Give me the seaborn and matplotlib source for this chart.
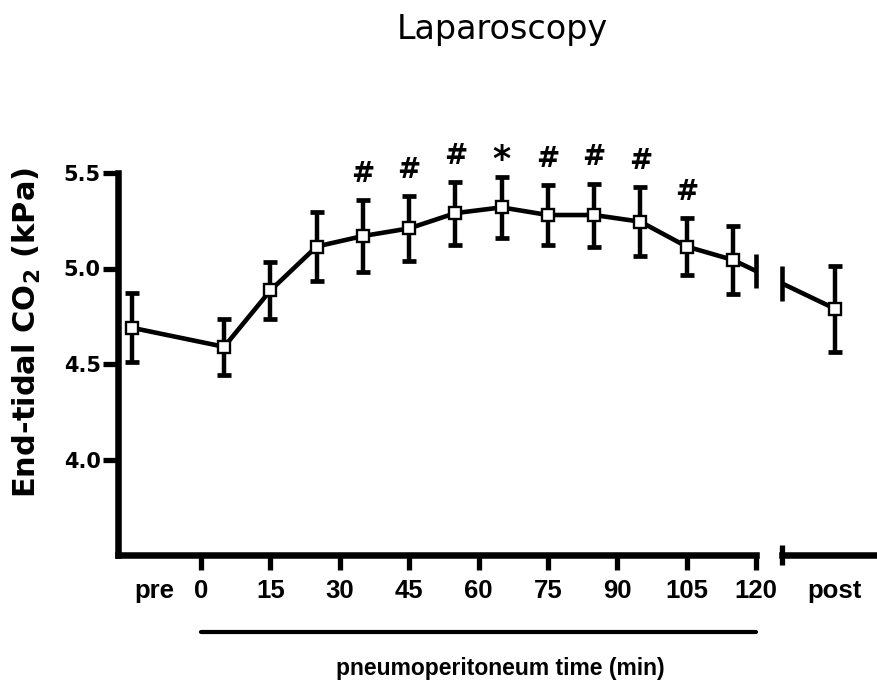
import numpy as np
import pandas as pd
import matplotlib
matplotlib.use("Agg")
import matplotlib.pyplot as plt
import matplotlib.transforms as mtransforms
import seaborn as sns

# End-tidal CO2 (kPa) during laparoscopy: mean and SD per measurement point
phase_labels = ["pre", "5", "15", "25", "35", "45", "55", "65", "75",
                "85", "95", "105", "115", "post"]
etco2_mean = [4.69, 4.59, 4.885, 5.115, 5.17, 5.21, 5.29, 5.32, 5.28,
              5.28, 5.245, 5.115, 5.045, 4.79]
etco2_sd = [0.18, 0.145, 0.148, 0.18, 0.19, 0.17, 0.165, 0.16, 0.158,
            0.165, 0.18, 0.147, 0.18, 0.225]
significance = ["", "", "", "", "#", "#", "#", "*", "#", "#", "#", "#", "", ""]
pneumo_ticks = [0, 15, 30, 45, 60, 75, 90, 105, 120]
y_ticks = [4.0, 4.5, 5.0, 5.5]

# placement of the pre / post measurements on the time axis
PRE_X, POST_X = -15, 137
PRE_LABEL_X = -10

x_pos = [PRE_X] + [int(p) for p in phase_labels[1:-1]] + [POST_X]
df = pd.DataFrame({"x": x_pos, "mean": etco2_mean, "sd": etco2_sd,
                   "sig": significance})

sns.set_theme(style="ticks")
plt.rcParams["font.family"] = ["Liberation Sans", "DejaVu Sans"]
plt.rcParams["mathtext.fontset"] = "dejavusans"
for key in ("text.color", "axes.labelcolor", "xtick.color", "ytick.color",
            "axes.edgecolor"):
    plt.rcParams[key] = "black"

W, H = 877, 695
fig = plt.figure(figsize=(W / 100, H / 100), dpi=100)


def px_box(left, right, top, bottom):
    return [left / W, 1 - bottom / H, (right - left) / W, (bottom - top) / H]


ax1 = fig.add_axes(px_box(118, 756, 173, 555))
ax2 = fig.add_axes(px_box(782, 877, 173, 555))

x_left, x_break = -17.95, 120
scale = (756 - 118) / (x_break - x_left)
ax2_lim = (x_break + (782 - 756) / scale, x_break + (877 - 756) / scale)
ax1.set_xlim(x_left, x_break)
ax2.set_xlim(*ax2_lim)
for ax in (ax1, ax2):
    ax.set_ylim(3.5, 5.5)

LW = 3.3
for ax in (ax1, ax2):
    ax.errorbar(df["x"], df["mean"], yerr=df["sd"], fmt="none",
                ecolor="black", elinewidth=3.2, capsize=4.8, capthick=3.4,
                zorder=2)
    sns.lineplot(data=df, x="x", y="mean", ax=ax, color="black", lw=LW,
                 marker="s", markersize=8.3, markerfacecolor="white",
                 markeredgecolor="black", markeredgewidth=1.7,
                 errorbar=None, legend=False, zorder=3)
    ax.set_xlabel("")
    ax.set_ylabel("")

# break marks on the data line at both sides of the axis gap
for ax, xb in ((ax1, x_break), (ax2, ax2_lim[0])):
    yb = np.interp(xb, df["x"], df["mean"])
    ax.vlines(xb, yb - 0.09, yb + 0.09, colors="black", lw=LW,
              clip_on=False, zorder=4)

# spines
sns.despine(ax=ax1)
sns.despine(ax=ax2, left=True)
for ax in (ax1, ax2):
    for sp in ax.spines.values():
        sp.set_linewidth(4.7)
        sp.set_color("black")

TICK_LEN, TICK_W, TICK_PAD = 10.5, 3.8, 7
XT_SIZE = 18.5

ax1.set_xticks(pneumo_ticks, labels=[str(t) for t in pneumo_ticks])
ax1.set_xticks([PRE_LABEL_X], labels=[phase_labels[0]], minor=True)
ax1.tick_params(axis="x", which="major", length=TICK_LEN, width=TICK_W,
                direction="out", pad=TICK_PAD, labelsize=XT_SIZE,
                color="black")
ax1.tick_params(axis="x", which="minor", length=0, pad=TICK_PAD + TICK_LEN,
                labelsize=XT_SIZE)

ax1.set_yticks(y_ticks, labels=[f"{v:.1f}" for v in y_ticks])
ax1.tick_params(axis="y", length=TICK_LEN, width=TICK_W, direction="out",
                pad=2, labelsize=15, color="black")
for lab in ax1.get_yticklabels():
    lab.set_fontfamily("DejaVu Sans")
    lab.set_fontweight("bold")

ax2.yaxis.set_visible(False)
ax2.set_xticks([ax2_lim[0]], labels=[""])
ax2.set_xticks([POST_X], labels=[phase_labels[-1]], minor=True)
ax2.tick_params(axis="x", which="major", length=14, width=TICK_W,
                direction="inout", color="black")
ax2.tick_params(axis="x", which="minor", length=0, pad=TICK_PAD + TICK_LEN,
                labelsize=XT_SIZE)

for ax in (ax1, ax2):
    for lab in ax.get_xticklabels(which="both"):
        lab.set_fontweight("bold")

# significance symbols above the error bars
for _, row in df.iterrows():
    if row["sig"] == "#":
        ax1.annotate("#", xy=(row["x"], row["mean"] + row["sd"]),
                     xytext=(0, 13), textcoords="offset points",
                     ha="center", va="baseline", fontsize=20,
                     fontweight="bold", family="DejaVu Sans")
    elif row["sig"] == "*":
        ax1.annotate("*", xy=(row["x"], row["mean"] + row["sd"]),
                     xytext=(0, 5), textcoords="offset points",
                     ha="center", va="baseline", fontsize=25,
                     fontweight="bold", family="DejaVu Sans")

# bar marking the pneumoperitoneum period
blend = mtransforms.blended_transform_factory(ax1.transData, ax1.transAxes)
ax1.plot([pneumo_ticks[0], pneumo_ticks[-1]], [-0.2016, -0.2016],
         transform=blend, clip_on=False, color="black", lw=3,
         solid_capstyle="round")

fig.text(500 / W, 1 - 669 / H, "pneumoperitoneum time (min)",
         ha="center", va="center", fontsize=16.5, fontweight="bold")
fig.text(27 / W, 1 - 332 / H, r"End-tidal CO$_\mathbf{2}$ (kPa)",
         rotation=90, ha="center", va="center", fontsize=22,
         fontweight="bold", family="DejaVu Sans")
fig.text(502 / W, 1 - 30 / H, "Laparoscopy", ha="center", va="center",
         fontsize=24, family="DejaVu Sans")

fig.savefig("out.png", dpi=100)
